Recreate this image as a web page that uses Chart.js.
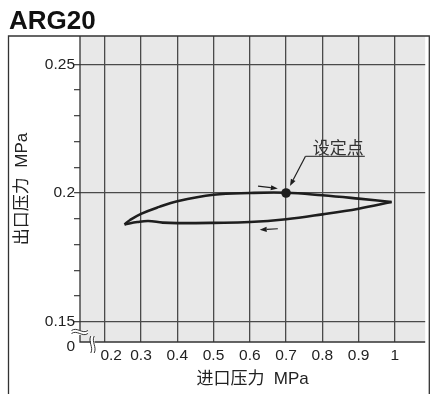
<!DOCTYPE html>
<html><head><meta charset="utf-8">
<script src="https://cdn.jsdelivr.net/npm/chart.js@4.4.0/dist/chart.umd.min.js"></script>
<style>html,body{margin:0;padding:0;background:#fff;}#wrap{width:430px;height:394px;position:relative}</style>
</head><body><div id="wrap"><canvas id="c" width="430" height="394"></canvas></div>
<script>
// ---- data ----
const chartTitle = 'ARG20';
const xTitle = '进口压力  MPa';
const yTitle = '出口压力  MPa';
const xTickValues = [0.2, 0.3, 0.4, 0.5, 0.6, 0.7, 0.8, 0.9, 1.0];
const xTickLabels = ['   0.2', '0.3', '0.4', '0.5', '0.6', '0.7', '0.8', '0.9', '1'];
const yTickValues = [0.1402, 0.15, 0.16, 0.17, 0.18, 0.19, 0.20, 0.21, 0.22, 0.23, 0.24, 0.25];
const yTickLabels = ['0', '0.15', '', '', '', '', '0.2', '', '', '', '', '0.25'];
const yMajorValues = [0.15, 0.20, 0.25];
// rising inlet pressure (upper branch)
const upX = [0.2545, 0.27, 0.30, 0.35, 0.40, 0.50, 0.60, 0.70, 0.80, 0.90, 0.991];
const upY = [0.1878, 0.1895, 0.1919, 0.1946, 0.1968, 0.1993, 0.2000, 0.2001, 0.1991, 0.1978, 0.1965];
// falling inlet pressure (lower branch)
const downX = [0.991, 0.90, 0.80, 0.70, 0.60, 0.50, 0.40, 0.36, 0.32, 0.29, 0.2545];
const downY = [0.1965, 0.1939, 0.1917, 0.1898, 0.1887, 0.1884, 0.1883, 0.1885, 0.1891, 0.1887, 0.1878];
const setPoint = [0.7, 0.2];
const setLabel = '设定点';
const setLabelPos = [0.8436, 0.2171];
const setUnderline = [[0.7536, 0.21426], [0.9172, 0.21426]];
const setLeader = [[0.7536, 0.21426], [0.7108, 0.2027]];
const arrowRise = [[0.6227, 0.2027], [0.6773, 0.2017]];
const arrowFall = [[0.6773, 0.1861], [0.6273, 0.1857]];

const FONT = "'Liberation Sans', 'Noto Sans CJK SC', Arial, sans-serif";
const INK = '#1e1e1e';
const GRID = '#4a4a4a';

function pts(xs, ys) { return xs.map((x, i) => ({x: x, y: ys[i]})); }

const decor = {
  id: 'decor',
  beforeDraw(chart) {
    const {ctx, chartArea: a} = chart;
    ctx.save();
    ctx.fillStyle = '#e8e8e8';
    ctx.fillRect(a.left, a.top, a.right - a.left, a.bottom - a.top);
    ctx.restore();
  },
  afterDatasetsDraw(chart) {
    const {ctx} = chart;
    const xs = chart.scales.x, ys = chart.scales.y;
    const P = (p) => [xs.getPixelForValue(p[0]), ys.getPixelForValue(p[1])];
    ctx.save();
    ctx.strokeStyle = INK; ctx.fillStyle = INK; ctx.lineWidth = 1.2;
    function arrow(seg) {
      const [x0, y0] = P(seg[0]), [x1, y1] = P(seg[1]);
      const ang = Math.atan2(y1 - y0, x1 - x0);
      const L = 7, W = 2.6;
      const bx = x1 - L * Math.cos(ang), by = y1 - L * Math.sin(ang);
      ctx.beginPath(); ctx.moveTo(x0, y0); ctx.lineTo(bx, by); ctx.stroke();
      ctx.beginPath();
      ctx.moveTo(x1, y1);
      ctx.lineTo(bx + W * Math.sin(ang), by - W * Math.cos(ang));
      ctx.lineTo(bx - W * Math.sin(ang), by + W * Math.cos(ang));
      ctx.closePath(); ctx.fill();
    }
    arrow(arrowRise);
    arrow(arrowFall);
    arrow(setLeader);
    const [u0x, u0y] = P(setUnderline[0]), [u1x, u1y] = P(setUnderline[1]);
    ctx.lineWidth = 1;
    ctx.beginPath(); ctx.moveTo(u0x, u0y); ctx.lineTo(u1x, u1y); ctx.stroke();
    const [lx, ly] = P(setLabelPos);
    ctx.font = '17px ' + FONT;
    ctx.textAlign = 'center'; ctx.textBaseline = 'middle';
    ctx.fillStyle = '#333';
    ctx.fillText(setLabel, lx, ly);
    ctx.restore();
  },
  afterDraw(chart) {
    const {ctx, chartArea: a, width, height} = chart;
    ctx.save();
    // outer frame
    ctx.strokeStyle = '#333'; ctx.lineWidth = 1.3;
    ctx.beginPath();
    ctx.moveTo(8.5, height); ctx.lineTo(8.5, a.top); ctx.lineTo(width - 0.7, a.top); ctx.lineTo(width - 0.7, height);
    ctx.stroke();
    ctx.beginPath(); ctx.moveTo(a.left, a.top); ctx.lineTo(a.left, a.bottom); ctx.lineTo(a.right, a.bottom); ctx.stroke();
    // axis breaks
    function waveH(x0, x1, y) {
      const w = x1 - x0;
      ctx.moveTo(x0, y);
      ctx.bezierCurveTo(x0 + w * 0.35, y - 4, x0 + w * 0.65, y + 4, x1, y);
    }
    function waveV(x, y0, y1) {
      const h = y1 - y0;
      ctx.moveTo(x, y0);
      ctx.bezierCurveTo(x - 3, y0 + h * 0.35, x + 3, y0 + h * 0.65, x, y1);
    }
    const yb = a.bottom - 10;
    ctx.fillStyle = '#fff';
    ctx.fillRect(a.left - 1, yb - 1.5, 9, 4.5);
    ctx.lineWidth = 1;
    ctx.strokeStyle = '#333';
    ctx.beginPath(); waveH(a.left - 8.5, a.left + 8, yb - 1.5); waveH(a.left - 8.5, a.left + 8, yb + 1.5); ctx.stroke();
    const xb = a.left + 12.5;
    ctx.fillRect(xb - 1.5, a.bottom - 6, 3.5, 8);
    ctx.beginPath(); waveV(xb - 1.7, a.bottom - 6, a.bottom + 11); waveV(xb + 1.7, a.bottom - 6, a.bottom + 11); ctx.stroke();
    ctx.restore();
  }
};

new Chart(document.getElementById('c'), {
  type: 'scatter',
  data: {
    datasets: [
      {data: [{x: setPoint[0], y: setPoint[1]}], pointRadius: 4.8, pointBackgroundColor: INK, pointBorderWidth: 0, showLine: false, order: 0},
      {data: pts(upX, upY), showLine: true, borderColor: INK, borderWidth: 2.6, pointRadius: 0, tension: 0.4, order: 1},
      {data: pts(downX, downY), showLine: true, borderColor: INK, borderWidth: 2.6, pointRadius: 0, tension: 0.4, order: 1}
    ]
  },
  options: {
    responsive: false,
    animation: false,
    devicePixelRatio: 1,
    layout: {padding: {left: 9, right: 1, top: 0, bottom: 0}},
    plugins: {
      legend: {display: false},
      tooltip: {enabled: false},
      title: {display: true, text: chartTitle, align: 'start', color: '#111',
        font: {family: FONT, size: 26, weight: 'bold', lineHeight: 1.0},
        padding: {top: 9, bottom: 1}}
    },
    scales: {
      x: {
        type: 'linear', min: 0.1318, max: 1.0837,
        afterBuildTicks: (s) => { s.ticks = xTickValues.map(v => ({value: v})); },
        afterFit: (s) => { s.height = 52; },
        ticks: {autoSkip: false, maxRotation: 0, padding: 4, color: '#222',
          font: {family: FONT, size: 15.5},
          callback: (v, i) => xTickLabels[i]},
        grid: {color: GRID, lineWidth: 1.3, drawTicks: false},
        border: {display: false},
        title: {display: true, text: xTitle, color: '#222', font: {family: FONT, size: 17}, padding: {top: 0, bottom: 4.8}}
      },
      y: {
        type: 'linear', min: 0.1421, max: 0.2610,
        afterBuildTicks: (s) => { s.ticks = yTickValues.map(v => ({value: v})); },
        afterFit: (s) => { s.width = 71; },
        ticks: {autoSkip: false, padding: -1, color: '#222',
          font: {family: FONT, size: 15.5},
          callback: (v, i) => yTickLabels[i]},
        grid: {
          lineWidth: 1.3, tickLength: 6,
          color: (c) => (c.tick && yMajorValues.some(m => Math.abs(m - c.tick.value) < 1e-6)) ? GRID : 'rgba(0,0,0,0)',
          tickColor: (c) => (c.tick && c.tick.value < 0.145) ? 'rgba(0,0,0,0)' : GRID
        },
        border: {display: false},
        title: {display: true, text: yTitle, color: '#222', font: {family: FONT, size: 17}, padding: {top: 3.3, bottom: 0}}
      }
    }
  },
  plugins: [decor]
});
</script></body></html>
